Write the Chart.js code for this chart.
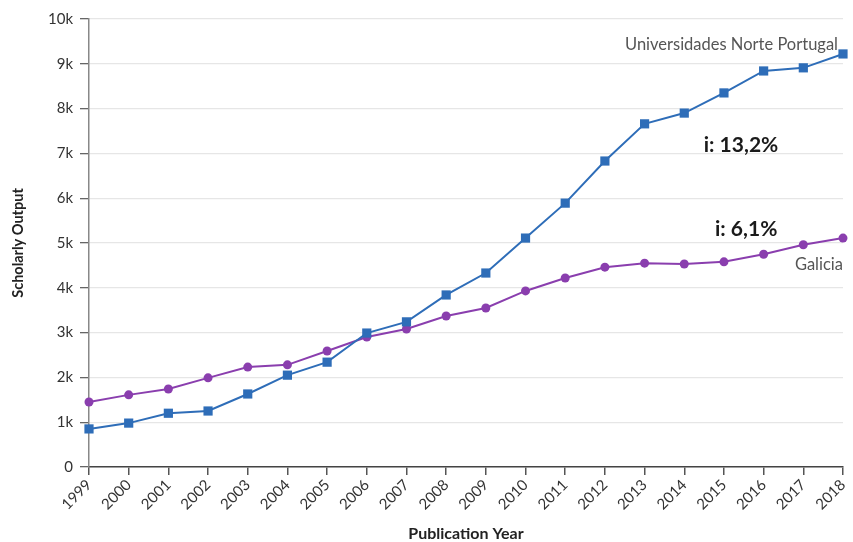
<!DOCTYPE html>
<html><head><meta charset="utf-8">
<script src="https://cdn.jsdelivr.net/npm/chart.js@4/dist/chart.umd.min.js"></script>
<style>html,body{margin:0;padding:0;background:#fff}#wrap{width:853px;height:542px}</style>
</head><body><div id="wrap"><canvas id="c" width="853" height="542"></canvas></div>
<script>
const years = ['1999','2000','2001','2002','2003','2004','2005','2006','2007','2008','2009','2010','2011','2012','2013','2014','2015','2016','2017','2018'];
const norte = [850,980,1200,1250,1630,2050,2340,2990,3240,3840,4330,5110,5890,6830,7660,7900,8350,8840,8910,9220];
const galicia = [1450,1610,1740,1990,2230,2280,2590,2900,3080,3370,3550,3930,4220,4460,4550,4530,4580,4750,4960,5110];
const seriesNames = ['Universidades Norte Portugal','Galicia'];
const growthLabels = ['i: 13,2%','i: 6,1%'];

const FONT = 'Lato, "Open Sans", sans-serif';
const BLUE = '#2e6db8', PURPLE = '#8a3eae';

const annot = {
  id: 'annot',
  afterDatasetsDraw(chart) {
    const {ctx, scales: {x, y}} = chart;
    const last = years.length - 1;
    ctx.save();
    ctx.textBaseline = 'middle';
    ctx.fillStyle = '#555';
    ctx.font = '16.5px ' + FONT;
    ctx.textAlign = 'right';
    ctx.fillText(seriesNames[0], x.getPixelForValue(last) - 5, y.getPixelForValue(norte[last]) - 9);
    ctx.fillText(seriesNames[1], x.getPixelForValue(last), y.getPixelForValue(galicia[last]) + 27);
    ctx.fillStyle = '#1a1a1a';
    ctx.font = 'bold 21px ' + FONT;
    ctx.textAlign = 'center';
    ctx.fillText(growthLabels[0], x.getPixelForValue(16.43), y.getPixelForValue(7190));
    ctx.fillText(growthLabels[1], x.getPixelForValue(16.56), y.getPixelForValue(5310));
    ctx.restore();
  }
};

new Chart(document.getElementById('c'), {
  type: 'line',
  data: {
    labels: years,
    datasets: [
      {label: seriesNames[0], data: norte, borderColor: BLUE, backgroundColor: BLUE, borderWidth: 2,
       pointStyle: 'rect', pointRadius: 6.5, pointHoverRadius: 6.5, pointBorderWidth: 0, tension: 0, clip: false},
      {label: seriesNames[1], data: galicia, borderColor: PURPLE, backgroundColor: PURPLE, borderWidth: 2,
       pointStyle: 'circle', pointRadius: 4.5, pointHoverRadius: 4.5, pointBorderWidth: 0, tension: 0, clip: false}
    ]
  },
  options: {
    responsive: false,
    animation: false,
    events: [],
    layout: {padding: {top: 19, right: 10, left: 0, bottom: 0}},
    plugins: {legend: {display: false}, tooltip: {enabled: false}},
    scales: {
      x: {
        offset: false,
        grid: {drawOnChartArea: false, tickColor: '#555', tickLength: 8, lineWidth: 1.5},
        border: {color: '#444', width: 1.5},
        ticks: {color: '#333', font: {family: FONT, size: 15}, maxRotation: 45, minRotation: 45, padding: 1, autoSkip: false},
        title: {display: true, text: 'Publication Year', color: '#222', font: {family: FONT, size: 16, weight: 'bold', lineHeight: 1}, padding: {top: 0, bottom: 0}},
        afterFit(s) { s.height = 75; s.paddingLeft = 0; s.paddingRight = 0; }
      },
      y: {
        min: 0, max: 10000,
        grid: {color: '#e6e6e6', tickColor: '#666', tickLength: 9, lineWidth: 1.3},
        border: {color: '#888', width: 1.5},
        ticks: {stepSize: 1000, color: '#333', font: {family: FONT, size: 15}, padding: 7,
          callback: v => v === 0 ? '0' : (v / 1000) + 'k'},
        title: {display: true, text: 'Scholarly Output', color: '#222', font: {family: FONT, size: 14.5, weight: 'bold', lineHeight: 1}, padding: {top: 11, bottom: 0}},
        afterFit(s) { s.width = 89; s.paddingTop = 0; s.paddingBottom = 0; }
      }
    }
  },
  plugins: [annot]
});
</script>
</body></html>
